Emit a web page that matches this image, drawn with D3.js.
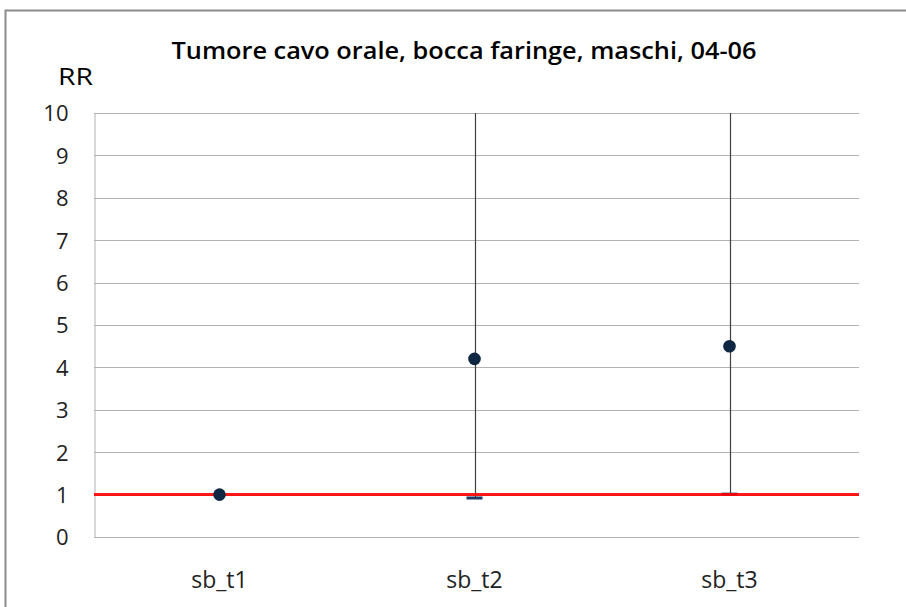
<!DOCTYPE html>
<html>
<head>
<meta charset="utf-8">
<script src="https://cdn.jsdelivr.net/npm/d3@7"></script>
<style>
  html, body { margin: 0; padding: 0; background: #fff; }
  svg { display: block; font-family: "Open Sans", "Noto Sans", sans-serif; }
</style>
</head>
<body>
<svg id="chart" width="906" height="607"></svg>
<script>
// Relative risk by group, with confidence interval bounds
const categories = ["sb_t1", "sb_t2", "sb_t3"];
const rr = [1.0, 4.2, 4.5];
const lower = [1.0, 0.92, 1.01];
const upper = [1.0, 24.0, 21.0];
const yTicks = [0, 1, 2, 3, 4, 5, 6, 7, 8, 9, 10];
const reference = 1;
const title = "Tumore cavo orale, bocca faringe, maschi, 04-06";
const yLabel = "RR";

const svg = d3.select("#chart");
const W = 906, H = 607;
const plot = { left: 94, right: 859, top: 113, bottom: 537 };

// chart frame (extends past the right and bottom edges)
svg.append("rect")
  .attr("x", 5.5).attr("y", 10.5)
  .attr("width", W + 20).attr("height", H + 20)
  .attr("fill", "#fff").attr("stroke", "#8c8c8c").attr("stroke-width", 2);

const x = d3.scaleBand().domain(categories).range([plot.left - 2, plot.right - 2]);
const y = d3.scaleLinear().domain([0, 10]).range([plot.bottom, plot.top]);

// horizontal gridlines
svg.append("g").selectAll("line").data(yTicks.filter(d => d > 0)).join("line")
  .attr("x1", plot.left).attr("x2", plot.right)
  .attr("y1", d => Math.round(y(d)) + 0.5).attr("y2", d => Math.round(y(d)) + 0.5)
  .attr("stroke", "#b3b3b3").attr("stroke-width", 1);

// y axis
const yAxis = svg.append("g")
  .attr("transform", `translate(${plot.left + 0.5},0)`)
  .call(d3.axisLeft(y).tickValues(yTicks).tickSize(0).tickPadding(26).tickFormat(d3.format("d")));
yAxis.select(".domain").attr("stroke", "#b3b3b3");
yAxis.selectAll("text").attr("font-size", 22).attr("fill", "#222")
  .attr("dy", "0.36em")
  .attr("font-family", "'Open Sans', sans-serif");

// x axis
const xAxis = svg.append("g")
  .attr("transform", `translate(0,${Math.round(plot.bottom) + 0.5})`)
  .call(d3.axisBottom(x).tickSize(0));
xAxis.select(".domain").attr("stroke", "#b3b3b3").attr("d", `M${plot.left},0H${plot.right}`);
xAxis.selectAll("text").attr("font-size", 23).attr("fill", "#222")
  .attr("y", 50).attr("dy", 0)
  .attr("font-family", "'Open Sans', sans-serif");

// clip marks to the plot area
svg.append("clipPath").attr("id", "plotClip")
  .append("rect").attr("x", plot.left).attr("y", plot.top)
  .attr("width", plot.right - plot.left).attr("height", plot.bottom - plot.top);

const marks = svg.append("g").attr("clip-path", "url(#plotClip)");
const cx = d => x(d) + x.bandwidth() / 2;
const rows = categories.map((c, i) => ({ c, v: rr[i], lo: lower[i], hi: upper[i] }));

// whiskers
marks.selectAll("line.whisker").data(rows.filter(d => d.hi > d.lo)).join("line")
  .attr("class", "whisker")
  .attr("x1", d => Math.round(cx(d.c)) + 0.5).attr("x2", d => Math.round(cx(d.c)) + 0.5)
  .attr("y1", d => y(d.lo)).attr("y2", d => y(d.hi))
  .attr("stroke", "#404040").attr("stroke-width", 1.2);

// lower caps
marks.selectAll("line.cap").data(rows.filter(d => d.hi > d.lo)).join("line")
  .attr("class", "cap")
  .attr("x1", d => cx(d.c) - 8).attr("x2", d => cx(d.c) + 8)
  .attr("y1", d => y(d.lo)).attr("y2", d => y(d.lo))
  .attr("stroke", "#1f3864").attr("stroke-width", 3);

// reference line at RR = 1
marks.append("line")
  .attr("x1", plot.left).attr("x2", plot.right)
  .attr("y1", y(reference)).attr("y2", y(reference))
  .attr("stroke", "#ff0000").attr("stroke-opacity", 0.9).attr("stroke-width", 3);

// point estimates
marks.selectAll("circle").data(rows).join("circle")
  .attr("cx", d => cx(d.c)).attr("cy", d => y(d.v)).attr("r", 6.3)
  .attr("fill", "#0f2743");

// title and axis label
svg.append("text")
  .attr("x", 464).attr("y", 59).attr("text-anchor", "middle")
  .attr("font-size", 24).attr("font-weight", 600).attr("fill", "#000")
  .attr("textLength", 585).attr("lengthAdjust", "spacingAndGlyphs")
  .text(title);
svg.append("text")
  .attr("x", 58).attr("y", 85)
  .attr("font-size", 23).attr("fill", "#000")
  .attr("textLength", 35).attr("lengthAdjust", "spacingAndGlyphs")
  .text(yLabel);
</script>
</body>
</html>
